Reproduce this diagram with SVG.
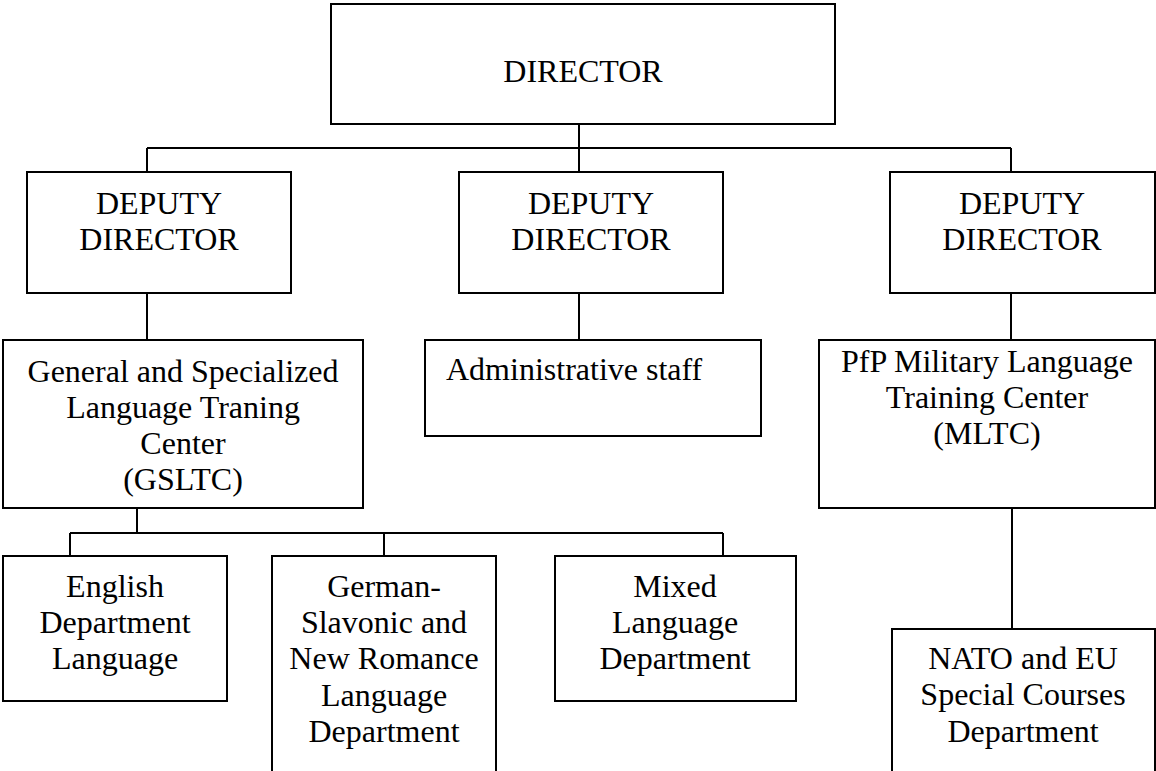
<svg xmlns="http://www.w3.org/2000/svg" width="1156" height="771" viewBox="0 0 1156 771">
<style>
.box{fill:#fff;stroke:#000;stroke-width:2}
.ln{fill:none;stroke:#000;stroke-width:2}
text{font-family:"Liberation Serif","Times New Roman",serif;font-size:32px;fill:#000;text-anchor:middle}
</style>
<rect width="1156" height="771" fill="#fff"/>
<g id="connectors">
<path class="ln" d="M579 124V172M147 148H1011M147 148V172M1011 148V172"/>
<path class="ln" d="M147 293V340M579 293V340M1011 293V340"/>
<path class="ln" d="M137 508V533M70 533H723M70 533V556M384 533V556M723 533V556"/>
<path class="ln" d="M1012 508V629"/>
</g>
<g id="director">
<rect class="box" x="331" y="4" width="504" height="120"/>
<text x="583" y="82">DIRECTOR</text>
</g>
<g id="deputy1">
<rect class="box" x="27" y="172" width="264" height="121"/>
<text x="159" y="214">DEPUTY</text>
<text x="159" y="250">DIRECTOR</text>
</g>
<g id="deputy2">
<rect class="box" x="459" y="172" width="264" height="121"/>
<text x="591" y="214">DEPUTY</text>
<text x="591" y="250">DIRECTOR</text>
</g>
<g id="deputy3">
<rect class="box" x="890" y="172" width="265" height="121"/>
<text x="1022" y="214">DEPUTY</text>
<text x="1022" y="250">DIRECTOR</text>
</g>
<g id="gsltc">
<rect class="box" x="3" y="340" width="360" height="168"/>
<text x="183" y="382">General and Specialized</text>
<text x="183" y="418">Language Traning</text>
<text x="183" y="454">Center</text>
<text x="183" y="490">(GSLTC)</text>
</g>
<g id="admin">
<rect class="box" x="425" y="340" width="336" height="96"/>
<text x="446" y="380" style="text-anchor:start">Administrative staff</text>
</g>
<g id="mltc">
<rect class="box" x="819" y="340" width="336" height="168"/>
<text x="987" y="372">PfP Military Language</text>
<text x="987" y="408">Training Center</text>
<text x="987" y="444">(MLTC)</text>
</g>
<g id="english">
<rect class="box" x="3" y="556" width="224" height="145"/>
<text x="115" y="597">English</text>
<text x="115" y="633">Department</text>
<text x="115" y="669">Language</text>
</g>
<g id="german">
<rect class="box" x="272" y="556" width="224" height="230"/>
<text x="384" y="597">German-</text>
<text x="384" y="633">Slavonic and</text>
<text x="384" y="669">New Romance</text>
<text x="384" y="706">Language</text>
<text x="384" y="742">Department</text>
</g>
<g id="mixed">
<rect class="box" x="555" y="556" width="241" height="145"/>
<text x="675" y="597">Mixed</text>
<text x="675" y="633">Language</text>
<text x="675" y="669">Department</text>
</g>
<g id="nato">
<rect class="box" x="892" y="629" width="263" height="160"/>
<text x="1023" y="669">NATO and EU</text>
<text x="1023" y="705">Special Courses</text>
<text x="1023" y="742">Department</text>
</g>
</svg>
